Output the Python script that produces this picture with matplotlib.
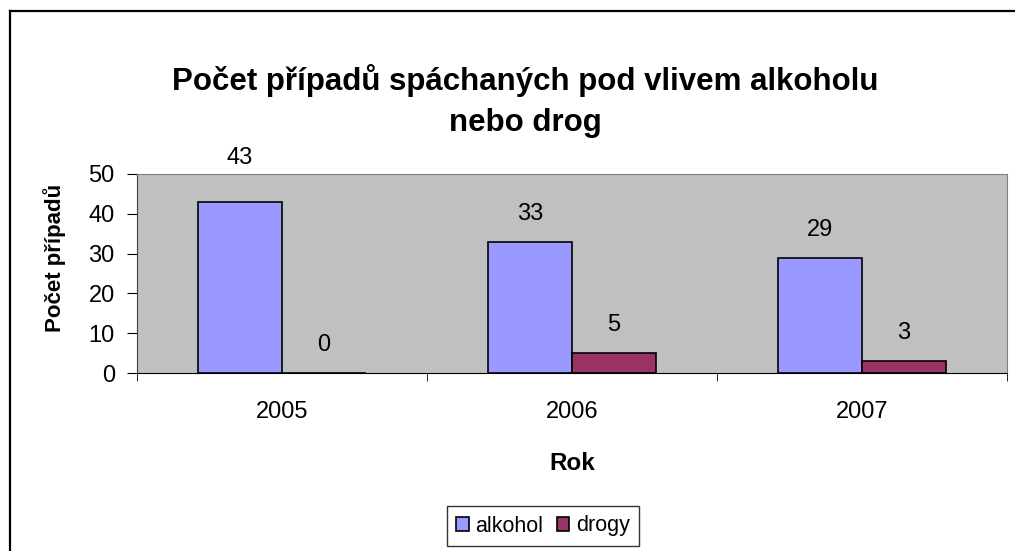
import numpy as np
import matplotlib.pyplot as plt
from matplotlib.lines import Line2D

plt.rcParams['font.family'] = ['Liberation Sans', 'DejaVu Sans']

roky = ['2005', '2006', '2007']
alkohol = [43, 33, 29]
drogy = [0, 5, 3]

W, H = 1015, 551
fig = plt.figure(figsize=(W / 100, H / 100), dpi=100)

# ramecek - jen horni a leva hrana jsou videt
fig.add_artist(Line2D([10 / W, 10 / W], [0, 1 - 11 / H], color='black', linewidth=1.6,
                      transform=fig.transFigure))
fig.add_artist(Line2D([10 / W, 1], [1 - 11 / H, 1 - 11 / H], color='black', linewidth=1.6,
                      transform=fig.transFigure))

ax = fig.add_axes([137 / W, 1 - 373 / H, 870 / W, 199 / H])
ax.set_facecolor('#C0C0C0')

x = np.arange(len(roky))
w = 0.29
b1 = ax.bar(x - w / 2, alkohol, w, color='#9999FF', edgecolor='black', linewidth=1.2, label='alkohol')
b2 = ax.bar(x + w / 2, drogy, w, color='#993366', edgecolor='black', linewidth=1.2, label='drogy')

# popisky nad sloupci (kdyz by zasahly do horniho okraje, posunou se nad nej)
for bars, vals in [(b1, alkohol), (b2, drogy)]:
    for r, v in zip(bars, vals):
        y = v + 7
        if y > 46:
            y = 54
        ax.text(r.get_x() + r.get_width() / 2, y, str(v), ha='center', va='center',
                fontsize=17, clip_on=False)

ax.set_xlim(-0.5, 2.5)
ax.set_ylim(0, 50)
ax.set_yticks(range(0, 51, 10))
ax.set_xticks(x)
ax.set_xticklabels(roky)
ax.set_xticks([-0.5, 0.5, 1.5, 2.5], minor=True)
ax.tick_params(axis='x', which='major', length=0, labelsize=17, pad=20)
ax.tick_params(axis='x', which='minor', length=6, direction='out')
ax.tick_params(axis='y', length=7, direction='out', labelsize=17, pad=9)

ax.spines['top'].set_color('#808080')
ax.spines['right'].set_color('#808080')
ax.spines['left'].set_color('#404040')
ax.spines['bottom'].set_color('#000000')

ax.set_xlabel('Rok', fontsize=17.5, fontweight='bold', labelpad=21)
ax.set_ylabel('Počet případů', fontsize=16, fontweight='bold')
ax.yaxis.set_label_coords(-0.082, 0.578)

fig.text(525 / W, 1 - 101 / H, 'Počet případů spáchaných pod vlivem alkoholu\nnebo drog',
         ha='center', va='center', fontsize=22.5, fontweight='bold', linespacing=1.45)

fig.legend(handles=[b1, b2], loc='center', bbox_to_anchor=(543 / W, 1 - 526 / H),
           ncol=2, fontsize=15.5, frameon=True, fancybox=False, edgecolor='black',
           handlelength=0.6, handleheight=0.6, handletextpad=0.3, columnspacing=0.6,
           borderpad=0.45, borderaxespad=0)

fig.savefig('out.png', dpi=100)
